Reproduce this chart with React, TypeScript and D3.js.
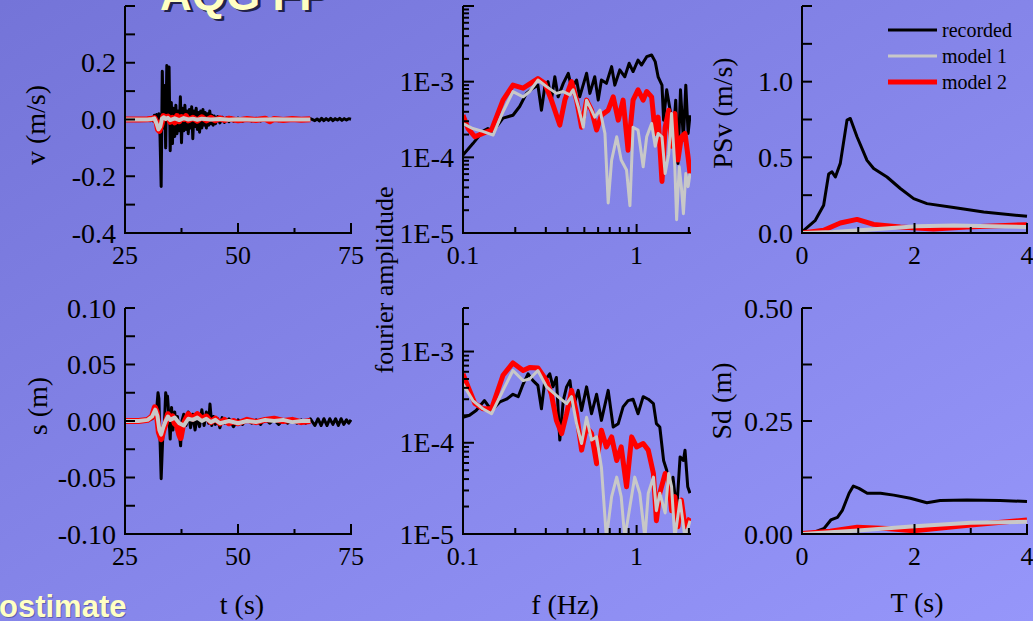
import React from "react";
import * as d3 from "d3";

type Pt = [number, number];

// ---------- time histories (t [s], value) ----------
const velRecorded: Pt[] = [
  [25,0],[26,0.002],[27,-0.002],[28,0.002],[29,-0.002],[30,0.003],[30.5,-0.004],[31,0.006],[31.25,-0.005],[31.5,0.015],[31.75,-0.008],[32,0.018],[32.25,-0.012],[32.5,0.02],[32.75,-0.06],[33,-0.236],[33.25,0.17],[33.5,-0.03],[33.75,0.12],[34,-0.1],[34.25,0.19],[34.5,0.02],[34.75,0.185],[35,-0.11],[35.25,0.06],[35.5,-0.085],[35.75,0.04],[36,-0.06],[36.25,0.05],[36.5,-0.05],[36.75,0.03],[37,-0.04],[37.25,0.08],[37.5,-0.082],[37.75,0.04],[38,-0.04],[38.25,0.05],[38.5,-0.035],[38.75,0.03],[39,-0.05],[39.25,0.035],[39.5,-0.03],[39.75,0.045],[40,-0.068],[40.25,0.03],[40.5,-0.025],[40.75,0.04],[41,-0.035],[41.25,0.025],[41.5,-0.045],[41.75,0.03],[42,-0.03],[42.25,0.035],[42.5,-0.02],[42.75,0.025],[43,-0.03],[43.25,0.02],[43.5,-0.02],[43.75,0.03],[44,-0.015],[44.25,0.015],[44.5,-0.02],[44.75,0.012],[45,-0.015],[45.5,0.01],[46,-0.012],[46.5,0.008],[47,-0.01],[47.5,0.006],[48,-0.008],[48.5,0.006],[49,-0.006],[50,0.005],[51,-0.006],[52,0.004],[53,-0.005],[54,0.004],[55,-0.005],[56,0.004],[57,-0.004],[58,0.003],[59,-0.004],[60,0.003],[61,-0.003],[62,0.004],[63,-0.003],[64,0.002],[65,-0.003],[66,0.003],[67,-0.004],[67.5,0.002],[68,-0.005],[68.5,0.004],[69,-0.004],[69.5,0.003],[70,-0.003],[70.5,0.004],[71,-0.004],[71.5,0.003],[72,-0.002],[72.5,0.004],[73,-0.003],[73.5,0.003],[74,-0.002],[74.5,0.003],[75,0.001],
];
const velModel2: Pt[] = [
  [25,0],[28,0],[30,0.001],[31,0.003],[31.5,0.005],[32,-0.01],[32.3,-0.035],[32.6,-0.04],[33,-0.02],[33.5,0.012],[34,0.005],[34.5,0.01],[35,-0.008],[35.5,0.006],[36,-0.01],[36.5,0.012],[37,-0.006],[37.5,0.008],[38,0.002],[38.5,0.012],[39,-0.003],[40,0.006],[41,-0.004],[42,0.008],[43,-0.003],[44,0.006],[45,-0.003],[46,0.004],[47,-0.002],[48,0.003],[50,-0.003],[52,0.002],[54,-0.002],[56,0.003],[57,-0.006],[58,0.002],[60,-0.002],[62,0.002],[64,-0.001],[66,0.001],
];
const velModel1: Pt[] = [
  [25,0],[30,0],[31,0.002],[31.5,0.004],[32,-0.015],[32.4,-0.035],[32.8,-0.025],[33.2,0.004],[33.6,0.008],[34,0.002],[34.5,0.006],[35,-0.002],[36,0.004],[37,-0.002],[38,0.005],[39,0.0],[40,0.003],[41,-0.001],[42,0.003],[44,0.0],[46,0.002],[48,-0.001],[50,0.001],[54,-0.001],[58,0.001],[62,0.0],[66,0.0],
];
const dispRecorded: Pt[] = [
  [25,0],[27,0],[29,0],[30,0.001],[31,0.002],[31.5,0.004],[32,0.01],[32.3,0.025],[32.5,0.02],[32.7,-0.01],[33,-0.051],[33.2,-0.03],[33.4,-0.01],[33.7,-0.005],[34,0.025],[34.2,0.02],[34.4,0.022],[34.7,0.005],[35,-0.016],[35.3,0.012],[35.6,-0.008],[36,0.008],[36.3,-0.005],[36.6,0.004],[37,-0.01],[37.3,-0.022],[37.6,0.0],[38,0.006],[38.5,-0.004],[39,0.008],[39.5,-0.006],[40,0.006],[40.5,-0.008],[41,0.004],[41.5,-0.005],[42,0.01],[42.5,-0.004],[43,0.008],[43.5,-0.002],[43.8,0.015],[44.2,-0.004],[44.6,0.004],[45,-0.003],[45.5,0.002],[46,-0.006],[46.5,0.003],[47,-0.002],[48,0.002],[49,-0.005],[50,0.001],[51,-0.003],[52,0.002],[53,-0.002],[54,0.001],[55,-0.003],[56,0.002],[57,-0.002],[58,0.001],[59,-0.003],[60,0.001],[61,-0.002],[62,0.002],[63,-0.002],[64,0.001],[65,-0.002],[66,0.002],[67,-0.004],[67.7,0.002],[68.4,-0.004],[69,0.002],[69.7,-0.004],[70.3,0.002],[71,-0.003],[71.6,0.002],[72.2,-0.004],[72.8,0.002],[73.4,-0.003],[74,0.001],[74.5,-0.002],[75,0.001],
];
const dispModel2: Pt[] = [
  [25,0],[28,0],[30,0.001],[31,0.004],[31.6,0.012],[32,0.008],[32.5,-0.01],[33,-0.016],[33.5,-0.008],[34,-0.002],[34.5,0.006],[35,0.002],[35.5,0.004],[36,-0.002],[36.5,-0.004],[37,-0.012],[37.3,-0.015],[37.8,-0.004],[38.5,0.002],[39,0.006],[40,0.002],[41,0.006],[42,0.002],[43,0.004],[44,-0.001],[45,0.002],[46,-0.002],[47,0.001],[48,-0.002],[49,0.0],[50,-0.002],[52,0.001],[54,-0.001],[56,0.001],[58,0.002],[60,0.0],[62,0.001],[64,-0.001],[66,0.0],
];
const dispModel1: Pt[] = [
  [25,0],[28,0],[30,0.001],[31,0.004],[31.7,0.01],[32.2,0.004],[32.6,-0.008],[33,-0.012],[33.5,-0.005],[34,0.0],[34.5,0.004],[35,0.001],[36,0.003],[37,-0.002],[38,-0.004],[39,0.002],[40,0.001],[41,0.003],[42,0.0],[43,0.002],[44,-0.001],[45,0.001],[46,-0.002],[48,0.0],[50,-0.002],[52,0.0],[54,-0.001],[56,0.001],[58,0.0],[60,0.001],[62,-0.001],[64,0.0],[66,0.0],
];

// ---------- Fourier spectra (f [Hz], amplitude) ----------
const fasTopRecorded: Pt[] = [
  [0.1,1.07e-4],[0.114,1.52e-4],[0.13,2.2e-4],[0.139,2.4e-4],[0.149,2.2e-4],[0.17,3.3e-4],[0.194,3.6e-4],[0.212,4.7e-4],[0.232,7.0e-4],[0.253,8.2e-4],[0.27,9.0e-4],[0.283,4.2e-4],[0.296,8.6e-4],[0.309,1e-3],[0.323,5.7e-4],[0.338,1.16e-3],[0.353,6.3e-4],[0.378,9.5e-4],[0.404,1.29e-3],[0.422,8.2e-4],[0.451,1.05e-3],[0.47,6.3e-4],[0.515,1.29e-3],[0.538,7.0e-4],[0.574,1.16e-3],[0.601,5.7e-4],[0.627,1.05e-3],[0.67,9.5e-4],[0.718,1.58e-3],[0.749,9.0e-4],[0.8,1.43e-3],[0.855,1.16e-3],[0.906,1.75e-3],[0.954,1.36e-3],[1.019,1.93e-3],[1.068,1.66e-3],[1.143,2.14e-3],[1.22,2.25e-3],[1.28,1.84e-3],[1.33,1.16e-3],[1.4,9.0e-4],[1.43,3.1e-4],[1.49,7.8e-4],[1.56,4.2e-4],[1.62,1.7e-4],[1.68,5.7e-4],[1.73,8.3e-5],[1.79,7.8e-4],[1.86,1.7e-4],[1.92,9.0e-4],[1.98,2.07e-4],[2.03,3.6e-4],
];
const fasTopModel2: Pt[] = [
  [0.1,3.6e-4],[0.107,2.4e-4],[0.117,1.87e-4],[0.13,2.07e-4],[0.146,2.3e-4],[0.17,5.7e-4],[0.194,9.0e-4],[0.222,8.2e-4],[0.27,1.1e-3],[0.296,9.5e-4],[0.323,5.7e-4],[0.361,2.67e-4],[0.386,5.7e-4],[0.422,1e-3],[0.451,5.7e-4],[0.482,2.5e-4],[0.515,5.7e-4],[0.55,4.2e-4],[0.588,2.3e-4],[0.627,3.6e-4],[0.686,4.2e-4],[0.733,6.3e-4],[0.784,3.1e-4],[0.836,5.7e-4],[0.893,1.24e-4],[0.954,5.7e-4],[1.019,7.8e-4],[1.091,5.7e-4],[1.143,7.4e-4],[1.22,6.3e-4],[1.28,2.07e-4],[1.33,3.4e-4],[1.4,4.8e-5],[1.46,2.5e-4],[1.53,4.2e-4],[1.59,1.4e-4],[1.66,3.8e-4],[1.73,9.2e-5],[1.81,1.87e-4],[1.9,2.07e-4],[1.98,1.0e-4],[2.03,6.1e-5],
];
const fasTopModel1: Pt[] = [
  [0.1,2.8e-4],[0.114,2.4e-4],[0.13,2.2e-4],[0.149,1.97e-4],[0.17,4.0e-4],[0.194,7.4e-4],[0.222,6.3e-4],[0.242,7.4e-4],[0.27,1.05e-3],[0.303,8.6e-4],[0.345,7.0e-4],[0.378,7.4e-4],[0.413,6.7e-4],[0.431,7.8e-4],[0.461,4.7e-4],[0.493,2.5e-4],[0.515,5.7e-4],[0.55,4.2e-4],[0.574,3.4e-4],[0.615,4.2e-4],[0.657,2.07e-4],[0.686,2.5e-5],[0.718,9.2e-5],[0.768,1.87e-4],[0.815,9.2e-5],[0.875,6.8e-5],[0.915,2.3e-5],[0.954,2.5e-4],[1.019,2.3e-4],[1.091,7.5e-5],[1.143,1.87e-4],[1.22,2.8e-4],[1.28,1.4e-4],[1.33,2.07e-4],[1.4,1.87e-4],[1.46,6.1e-5],[1.53,1.1e-4],[1.59,3.8e-4],[1.66,7.5e-5],[1.7,1.5e-5],[1.76,7.5e-5],[1.81,4.1e-5],[1.86,1.8e-5],[1.92,6.1e-5],[1.98,4.1e-5],[2.03,6.1e-5],
];
const fasBotRecorded: Pt[] = [
  [0.1,1.9e-4],[0.109,2.0e-4],[0.119,2.26e-4],[0.133,2.9e-4],[0.146,2.26e-4],[0.163,2.8e-4],[0.178,3.0e-4],[0.194,3.4e-4],[0.208,3.2e-4],[0.222,4.4e-4],[0.237,5.7e-4],[0.253,4.8e-4],[0.27,4.25e-4],[0.283,2.36e-4],[0.296,4.8e-4],[0.316,5.7e-4],[0.33,4.1e-4],[0.345,5.2e-4],[0.361,1.07e-4],[0.378,2.9e-4],[0.395,4.1e-4],[0.413,4.8e-4],[0.431,2.47e-4],[0.461,3.75e-4],[0.482,2.26e-4],[0.515,4.1e-4],[0.55,2.08e-4],[0.588,3.4e-4],[0.627,1.76e-4],[0.686,3.75e-4],[0.733,1.49e-4],[0.784,1.62e-4],[0.836,2.47e-4],[0.893,2.9e-4],[0.954,3.0e-4],[1.019,2.08e-4],[1.091,3.2e-4],[1.167,3.0e-4],[1.25,2.68e-4],[1.3,1.62e-4],[1.36,1.49e-4],[1.43,6.4e-5],[1.49,5.0e-5],[1.56,2.57e-5],[1.62,4.2e-5],[1.7,1.8e-5],[1.78,7.0e-5],[1.86,6.4e-5],[1.9,8.3e-5],[1.97,3.3e-5],[2.03,2.8e-5],
];
const fasBotModel2: Pt[] = [
  [0.1,5.7e-4],[0.107,4.1e-4],[0.117,2.7e-4],[0.13,2.36e-4],[0.146,2.36e-4],[0.17,5.5e-4],[0.194,7.5e-4],[0.222,6.2e-4],[0.242,6.7e-4],[0.27,6.6e-4],[0.303,4.8e-4],[0.323,3.4e-4],[0.345,1.76e-4],[0.37,1.26e-4],[0.395,2.08e-4],[0.422,3.75e-4],[0.451,2.08e-4],[0.482,8.3e-5],[0.515,1.49e-4],[0.55,1.26e-4],[0.588,5.9e-5],[0.627,1.37e-4],[0.67,9.0e-5],[0.718,1.16e-4],[0.768,6.4e-5],[0.815,9.0e-5],[0.875,3.3e-5],[0.936,1.16e-4],[1.0,9.0e-5],[1.091,9.8e-5],[1.167,8.3e-5],[1.25,4.6e-5],[1.3,1.4e-5],[1.36,2.8e-5],[1.46,4.6e-5],[1.53,3.9e-5],[1.59,1.8e-5],[1.66,2.57e-5],[1.73,1.2e-5],[1.81,2.36e-5],[1.9,1.2e-5],[2.03,1.5e-5],
];
const fasBotModel1: Pt[] = [
  [0.1,4.4e-4],[0.114,2.9e-4],[0.13,2.36e-4],[0.146,2.08e-4],[0.17,3.75e-4],[0.194,6.2e-4],[0.222,4.8e-4],[0.242,5.0e-4],[0.27,6.2e-4],[0.303,4.1e-4],[0.345,3.3e-4],[0.395,2.68e-4],[0.422,3.2e-4],[0.451,1.62e-4],[0.482,9.8e-5],[0.515,1.9e-4],[0.55,1.07e-4],[0.588,1.16e-4],[0.627,5.4e-5],[0.67,9e-6],[0.718,2.57e-5],[0.768,4.2e-5],[0.815,2.57e-5],[0.855,9e-6],[0.915,2.0e-5],[0.975,4.2e-5],[1.043,2.8e-5],[1.117,9e-6],[1.167,2.8e-5],[1.25,4.2e-5],[1.3,1.8e-5],[1.36,2.8e-5],[1.46,1.7e-5],[1.53,4.6e-5],[1.59,3.3e-5],[1.66,9e-6],[1.78,2.36e-5],[1.9,9e-6],[2.03,1.4e-5],
];

// ---------- response spectra (T [s], value) ----------
const psvRecorded: Pt[] = [
  [0,0.007],[0.237,0.084],[0.385,0.183],[0.474,0.39],[0.533,0.404],[0.593,0.37],[0.681,0.46],[0.8,0.746],[0.859,0.757],[0.978,0.636],[1.156,0.48],[1.274,0.426],[1.511,0.37],[1.748,0.294],[1.985,0.227],[2.222,0.194],[2.696,0.168],[3.23,0.139],[4.0,0.11],
];
const psvModel2: Pt[] = [
  [0,0],[0.385,0.018],[0.681,0.066],[0.978,0.09],[1.274,0.057],[1.748,0.04],[2.34,0.026],[2.93,0.04],[4.0,0.055],
];
const psvModel1: Pt[] = [
  [0,0],[0.56,0.007],[1.16,0.022],[2.04,0.044],[2.7,0.049],[4.0,0.04],
];
const sdRecorded: Pt[] = [
  [0,0.0015],[0.218,0.004],[0.395,0.0126],[0.513,0.031],[0.63,0.037],[0.72,0.053],[0.837,0.09],[0.913,0.106],[1.013,0.101],[1.16,0.09],[1.396,0.09],[1.63,0.086],[1.926,0.079],[2.22,0.069],[2.457,0.074],[2.93,0.075],[3.52,0.074],[4.0,0.072],
];
const sdModel2: Pt[] = [
  [0,0.001],[0.5,0.006],[0.98,0.015],[1.5,0.012],[1.985,0.0074],[3.0,0.02],[4.0,0.031],
];
const sdModel1: Pt[] = [
  [0,0],[1.0,0.008],[2.0,0.017],[3.0,0.025],[4.0,0.027],
];

// ---------- ticks & labels ----------
const timeTickLabels = [25, 50, 75];
const timeMinorTicks = [37.5, 62.5];
const vTickLabels = [-0.4, -0.2, 0.0, 0.2];
const vAllTicks = [-0.4, -0.3, -0.2, -0.1, 0, 0.1, 0.2, 0.3, 0.4];
const sTickLabels = [-0.1, -0.05, 0.0, 0.05, 0.1];
const sAllTicks = [-0.1, -0.075, -0.05, -0.025, 0, 0.025, 0.05, 0.075, 0.1];
const freqTickLabels = [0.1, 1];
const freqMinorTicks = [0.2, 0.3, 0.4, 0.5, 0.6, 0.7, 0.8, 0.9, 2];
const fasLabelValues = [1e-5, 1e-4, 1e-3];
const fasLabelTexts = ["1E-5", "1E-4", "1E-3"];
const periodTickLabels = [0, 2, 4];
const periodMinorTicks = [1, 3];
const psvTickLabels = [0, 0.5, 1.0];
const psvAllTicks = [0, 0.25, 0.5, 0.75, 1.0, 1.25, 1.5];
const sdTickLabels = [0, 0.25, 0.5];
const sdAllTicks = [0, 0.125, 0.25, 0.375, 0.5];
const legendNames = ["recorded", "model 1", "model 2"];

const COLORS = { rec: "#000000", m1: "#c8c8c8", m2: "#ff0000" };
const SERIF = "'Liberation Serif', 'Times New Roman', serif";
const SANS = "'Liberation Sans', Arial, sans-serif";

type Scale = (v: number) => number;
interface Series { data: Pt[]; color: string; width: number }
interface YTick { v: number; label?: string; major?: boolean }
interface XTick { v: number; label?: string; major?: boolean }

function logMinor(lo: number, hi: number): number[] {
  const out: number[] = [];
  for (let e = Math.floor(Math.log10(lo)); e <= Math.ceil(Math.log10(hi)); e++) {
    for (let k = 1; k <= 9; k++) {
      const v = k * Math.pow(10, e);
      if (v >= lo * 0.999 && v <= hi * 1.001) out.push(v);
    }
  }
  return out;
}

function Panel(props: {
  id: string;
  x: Scale; y: Scale;
  x0: number; x1: number; yTop: number; yBot: number;
  series: Series[];
  xTicks: XTick[]; yTicks: YTick[];
  yMajorLen: number; yMinorLen: number;
  xMajorLen: number; xMinorLen: number;
  yFont: number; xFont: number;
}) {
  const { id, x, y, x0, x1, yTop, yBot, series, xTicks, yTicks } = props;
  const line = d3.line<Pt>().x((d) => x(d[0])).y((d) => y(d[1]));
  return (
    <g>
      <defs>
        <clipPath id={id}>
          <rect x={x0} y={yTop - 1} width={x1 - x0 + 1} height={yBot - yTop + 2} />
        </clipPath>
      </defs>
      <g clipPath={`url(#${id})`}>
        {series.map((s, i) => (
          <path key={i} d={line(s.data) || ""} fill="none" stroke={s.color} strokeWidth={s.width} strokeLinejoin="round" />
        ))}
      </g>
      <g stroke="#000" strokeWidth={2}>
        <line x1={x0} y1={yTop} x2={x0} y2={yBot + 1} />
        <line x1={x0 - 1} y1={yBot} x2={x1 + 1} y2={yBot} />
        {yTicks.map((t, i) => (
          <line key={"y" + i} x1={x0} x2={x0 + (t.major ? props.yMajorLen : props.yMinorLen)} y1={y(t.v)} y2={y(t.v)} />
        ))}
        {xTicks.map((t, i) => (
          <line key={"x" + i} x1={x(t.v)} x2={x(t.v)} y1={yBot} y2={yBot - (t.major ? props.xMajorLen : props.xMinorLen)} />
        ))}
      </g>
      <g fontFamily={SERIF} fill="#000">
        {yTicks.filter((t) => t.label).map((t, i) => (
          <text key={"yl" + i} x={x0 - 9} y={y(t.v)} fontSize={props.yFont} textAnchor="end" dominantBaseline="central">{t.label}</text>
        ))}
        {xTicks.filter((t) => t.label).map((t, i) => (
          <text key={"xl" + i} x={x(t.v)} y={yBot + 31} fontSize={props.xFont} textAnchor="middle">{t.label}</text>
        ))}
      </g>
    </g>
  );
}

export default function App() {
  const L = { x0: 125, x1: 351 };
  const M = { x0: 463, x1: 690 };
  const R = { x0: 802, x1: 1027 };
  const top = { yTop: 6, yBot: 233 };
  const bot = { yTop: 308, yBot: 534 };

  const xTime = d3.scaleLinear().domain([25, 75]).range([L.x0, L.x1]);
  const yVel = d3.scaleLinear().domain([-0.4, 0.4]).range([top.yBot, top.yTop]);
  const yDisp = d3.scaleLinear().domain([-0.1, 0.1]).range([bot.yBot, bot.yTop]);
  const xFreq = d3.scaleLog().domain([0.1, 2.03]).range([M.x0, M.x1]);
  const yFasTop = d3.scaleLog().domain([1e-5, 1e-2]).range([top.yBot, top.yTop]);
  const yFasBot = d3.scaleLog().domain([1e-5, 3e-3]).range([bot.yBot, bot.yTop]);
  const xPer = d3.scaleLinear().domain([0, 4]).range([R.x0, R.x1]);
  const yPsv = d3.scaleLinear().domain([0, 1.5]).range([top.yBot, top.yTop]);
  const ySd = d3.scaleLinear().domain([0, 0.5]).range([bot.yBot, bot.yTop]);

  const f1 = d3.format(".1f");
  const f2 = d3.format(".2f");
  const fmt = (f: (n: number) => string) => (v: number) => f(v).replace("−", "-");

  const timeX: XTick[] = [
    ...timeTickLabels.map((v) => ({ v, label: String(v), major: true })),
    ...timeMinorTicks.map((v) => ({ v })),
  ];
  const freqX: XTick[] = [
    ...freqTickLabels.map((v) => ({ v, label: String(v), major: true })),
    ...freqMinorTicks.map((v) => ({ v })),
  ];
  const perX: XTick[] = [
    ...periodTickLabels.map((v) => ({ v, label: String(v), major: true })),
    ...periodMinorTicks.map((v) => ({ v })),
  ];
  const velY: YTick[] = vAllTicks.map((v) => ({
    v, major: true, label: vTickLabels.some((l) => Math.abs(l - v) < 1e-9) ? fmt(f1)(v) : undefined,
  }));
  const dispY: YTick[] = sAllTicks.map((v) => ({
    v, major: true, label: sTickLabels.some((l) => Math.abs(l - v) < 1e-9) ? fmt(f2)(v) : undefined,
  }));
  const fasY = (hi: number): YTick[] =>
    logMinor(1e-5, hi).map((v) => {
      const idx = fasLabelValues.findIndex((l) => Math.abs(l - v) / l < 1e-6);
      const isDecade = Math.abs(Math.log10(v) - Math.round(Math.log10(v))) < 1e-6;
      return { v, major: isDecade, label: idx >= 0 ? fasLabelTexts[idx] : undefined };
    });
  const psvY: YTick[] = psvAllTicks.map((v) => ({
    v, major: true, label: psvTickLabels.some((l) => Math.abs(l - v) < 1e-9) ? fmt(f1)(v) : undefined,
  }));
  const sdY: YTick[] = sdAllTicks.map((v) => ({
    v, major: true, label: sdTickLabels.some((l) => Math.abs(l - v) < 1e-9) ? fmt(f2)(v) : undefined,
  }));

  const ser = (rec: Pt[], m1: Pt[], m2: Pt[], wr: number, w1: number, w2: number): Series[] => [
    { data: rec, color: COLORS.rec, width: wr },
    { data: m2, color: COLORS.m2, width: w2 },
    { data: m1, color: COLORS.m1, width: w1 },
  ];

  const common = { yMajorLen: 10, yMinorLen: 10, xMajorLen: 10, xMinorLen: 5, yFont: 28, xFont: 26 };

  const axisLabel = (txt: string, cx: number, cy: number, rot: boolean, fs = 28) => (
    <text
      transform={`translate(${cx},${cy})${rot ? " rotate(-90)" : ""}`}
      textAnchor="middle"
      dominantBaseline="central"
      fontFamily={SERIF}
      fontSize={fs}
      fill="#000"
    >
      {txt}
    </text>
  );

  const legendColors = [COLORS.rec, COLORS.m1, COLORS.m2];
  const legendWidths = [3, 3, 5];
  const legendY = d3.scalePoint<string>().domain(legendNames).range([30, 82]);

  return (
    <svg
      width={1033}
      height={621}
      style={{ position: "absolute", left: 0, top: 0, display: "block" }}
    >
      <defs>
        <linearGradient id="bg" x1="0" y1="0" x2="1" y2="1">
          <stop offset="0" stopColor="#7474d8" />
          <stop offset="1" stopColor="#9696fa" />
        </linearGradient>
      </defs>
      <rect x={0} y={0} width={1033} height={621} fill="url(#bg)" />

      {/* title (cut at top) and footer word */}
      <g fontFamily={SANS} fontWeight="bold">
        <text x={163} y={12} fontSize={44} fill="#22224a">AQG FP</text>
        <text x={160} y={10} fontSize={44} fill="#ffffc4">AQG FP</text>
        <text x={0} y={618} fontSize={31} fill="#3a3a70" opacity={0.5}>ostimate</text>
        <text x={-1} y={617} fontSize={31} fill="#ffffc4">ostimate</text>
      </g>

      <Panel id="c1" x={xTime} y={yVel} {...L} {...top} series={ser(velRecorded, velModel1, velModel2, 3, 4, 6)} xTicks={timeX} yTicks={velY} {...common} />
      <Panel id="c2" x={xTime} y={yDisp} {...L} {...bot} series={ser(dispRecorded, dispModel1, dispModel2, 3, 4, 6)} xTicks={timeX} yTicks={dispY} {...common} />
      <Panel id="c3" x={xFreq} y={yFasTop} {...M} {...top} series={ser(fasTopRecorded, fasTopModel1, fasTopModel2, 3, 3, 5)} xTicks={freqX} yTicks={fasY(1e-2)} {...common} yMajorLen={11} yMinorLen={6} xMajorLen={9} xMinorLen={6} />
      <Panel id="c4" x={xFreq} y={yFasBot} {...M} {...bot} series={ser(fasBotRecorded, fasBotModel1, fasBotModel2, 3, 3, 5)} xTicks={freqX} yTicks={fasY(3e-3)} {...common} yMajorLen={11} yMinorLen={6} xMajorLen={9} xMinorLen={6} />
      <Panel id="c5" x={xPer} y={yPsv} {...R} {...top} series={ser(psvRecorded, psvModel1, psvModel2, 3, 4, 5)} xTicks={perX} yTicks={psvY} {...common} xMinorLen={6} />
      <Panel id="c6" x={xPer} y={ySd} {...R} {...bot} series={ser(sdRecorded, sdModel1, sdModel2, 3, 4, 5)} xTicks={perX} yTicks={sdY} {...common} xMinorLen={6} />

      {axisLabel("v (m/s)", 35, 125, true)}
      {axisLabel("s (m)", 37, 406, true)}
      {axisLabel("fourier amplidude", 384, 280, true, 26)}
      {axisLabel("PSv (m/s)", 722, 113, true)}
      {axisLabel("Sd (m)", 721, 401, true)}
      {axisLabel("t (s)", 242, 604, false)}
      {axisLabel("f (Hz)", 565, 604, false)}
      {axisLabel("T (s)", 917, 602, false)}

      {/* legend */}
      <g>
        {legendNames.map((n, i) => (
          <g key={n}>
            <line x1={888} x2={937} y1={legendY(n)!} y2={legendY(n)!} stroke={legendColors[i]} strokeWidth={legendWidths[i]} />
            <text x={942} y={legendY(n)!} dominantBaseline="central" fontFamily={SERIF} fontSize={20} fill="#000">{n}</text>
          </g>
        ))}
      </g>
    </svg>
  );
}
